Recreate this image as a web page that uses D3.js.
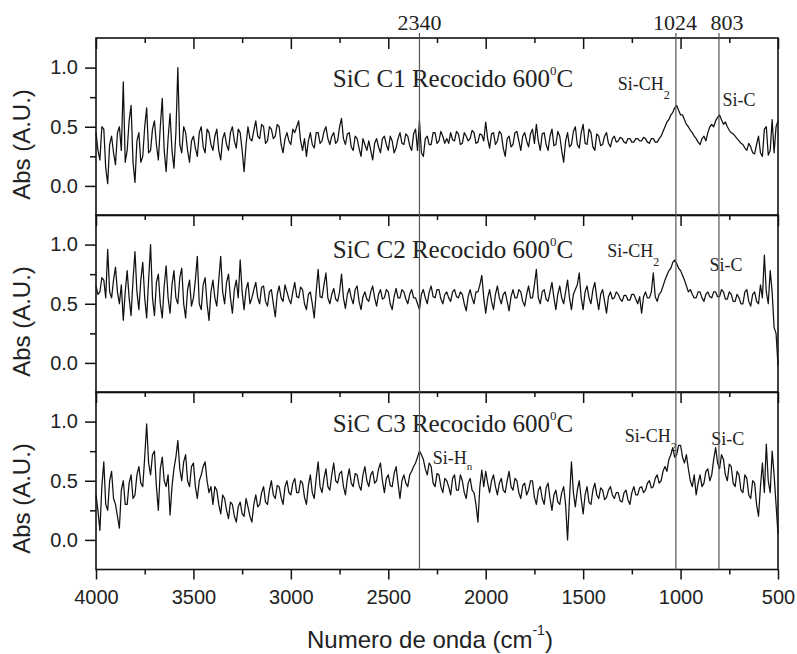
<!DOCTYPE html>
<html><head><meta charset="utf-8">
<script src="https://cdn.jsdelivr.net/npm/d3@7"></script>
<style>body{margin:0;background:#fff}</style></head>
<body>
<svg id="c" width="797" height="654"></svg>
<script>
// ---------- DATA ----------
const wnStart = 4000, wnEnd = 500, wnStep = 10;   // sampling grid (cm^-1)
const xTicks = [4000, 3500, 3000, 2500, 2000, 1500, 1000, 500];
const xMinorTicks = [3750, 3250, 2750, 2250, 1750, 1250, 750];
const yTicks = [0.0, 0.5, 1.0];
const yMinorTicks = [0.25, 0.75];
const markerLines = [2340, 1024, 803];
const sampleTitles = ["SiC C1 Recocido 600", "SiC C2 Recocido 600", "SiC C3 Recocido 600"];

// absorbance, one row = 200 cm^-1 (4000 -> 500)
const c1 = [
 .45,.3,.22,.5,.48,.15,.02,.35,.42,.28,.18,.45,.5,.3,.88,.2,.3,.55,.68,.2,
 .03,.38,.45,.2,.25,.5,.66,.28,.3,.48,.55,.35,.22,.5,.74,.3,.12,.4,.61,.3,
 .15,.45,1.0,.35,.28,.5,.45,.3,.2,.38,.42,.32,.25,.45,.5,.33,.28,.48,.45,.35,
 .3,.42,.48,.3,.22,.4,.45,.35,.3,.45,.5,.38,.32,.48,.45,.3,.12,.35,.5,.4,
 .38,.47,.55,.42,.4,.52,.5,.36,.38,.5,.48,.4,.42,.52,.5,.35,.28,.4,.45,.38,
 .35,.48,.45,.5,.55,.38,.3,.4,.25,.38,.45,.35,.32,.45,.45,.36,.38,.46,.5,.4,
 .35,.42,.45,.36,.38,.5,.57,.4,.35,.44,.45,.33,.3,.42,.4,.32,.25,.4,.35,.3,
 .38,.3,.22,.36,.4,.33,.28,.4,.42,.35,.3,.42,.38,.28,.32,.4,.45,.36,.35,.44,
 .42,.34,.3,.44,.48,.3,.55,.28,.25,.4,.42,.35,.35,.45,.45,.36,.38,.46,.42,.36,
 .4,.36,.45,.39,.38,.46,.44,.35,.36,.45,.42,.38,.4,.47,.45,.36,.37,.44,.43,.38,
 .54,.4,.32,.44,.45,.35,.38,.46,.44,.32,.25,.4,.42,.33,.35,.45,.46,.38,.3,.42,
 .45,.38,.33,.44,.48,.36,.52,.38,.3,.44,.45,.35,.3,.42,.48,.34,.35,.46,.42,.3,
 .2,.38,.45,.33,.35,.46,.5,.35,.32,.45,.52,.36,.35,.48,.45,.33,.3,.44,.42,.34,
 .35,.42,.45,.36,.33,.4,.42,.37,.38,.41,.4,.37,.36,.4,.4,.37,.37,.4,.4,.38,
 .38,.41,.4,.37,.36,.4,.4,.37,.37,.4,.42,.46,.5,.54,.56,.6,.62,.66,.68,.64,
 .6,.6,.56,.52,.5,.47,.45,.42,.4,.37,.35,.4,.42,.38,.45,.5,.52,.5,.55,.58,
 .6,.56,.52,.54,.5,.47,.45,.44,.42,.4,.38,.36,.35,.32,.3,.36,.33,.28,.27,.35,
 .42,.28,.25,.48,.5,.26,.3,.56,.28,.5,.55
];
const c2 = [
 .65,.58,.6,.72,.7,.55,.96,.6,.55,.7,.81,.6,.5,.66,.36,.6,.78,.55,.4,.7,
 .94,.6,.45,.7,.85,.55,.38,.7,1.0,.55,.4,.68,.75,.5,.38,.65,.82,.55,.42,.66,
 .78,.55,.5,.72,.8,.5,.38,.62,.7,.48,.55,.7,.9,.5,.45,.66,.72,.5,.36,.6,
 .7,.55,.48,.7,.9,.6,.5,.68,.75,.55,.42,.62,.7,.55,.87,.6,.45,.62,.68,.5,
 .55,.62,.68,.55,.5,.64,.65,.52,.48,.6,.62,.5,.39,.58,.65,.55,.52,.66,.6,.54,
 .5,.6,.68,.56,.55,.64,.62,.5,.45,.58,.6,.5,.38,.6,.79,.56,.55,.66,.76,.55,
 .5,.58,.63,.54,.52,.6,.75,.55,.46,.58,.63,.55,.5,.62,.65,.52,.45,.56,.6,.54,
 .52,.6,.65,.55,.48,.58,.62,.54,.55,.62,.6,.5,.45,.56,.63,.55,.55,.62,.6,.54,
 .5,.58,.62,.55,.55,.5,.45,.58,.62,.55,.5,.6,.65,.56,.55,.62,.62,.54,.5,.58,
 .6,.55,.52,.6,.62,.56,.55,.6,.58,.5,.44,.56,.62,.55,.5,.6,.6,.66,.74,.55,
 .42,.55,.62,.52,.45,.58,.65,.55,.5,.58,.6,.52,.44,.56,.62,.55,.55,.62,.6,.52,
 .48,.58,.65,.55,.55,.66,.79,.55,.5,.6,.62,.54,.52,.6,.68,.55,.45,.58,.65,.55,
 .5,.6,.7,.55,.45,.58,.62,.66,.76,.55,.45,.6,.65,.55,.5,.62,.68,.55,.45,.58,
 .62,.52,.42,.56,.6,.54,.55,.6,.58,.54,.52,.57,.57,.53,.53,.58,.58,.54,.5,.56,
 .42,.56,.6,.55,.55,.6,.76,.56,.52,.58,.6,.65,.7,.74,.78,.8,.85,.87,.84,.8,
 .78,.74,.7,.65,.6,.62,.58,.55,.55,.6,.6,.55,.52,.58,.6,.56,.55,.6,.6,.56,
 .56,.62,.6,.54,.54,.6,.58,.52,.52,.58,.55,.5,.5,.6,.62,.52,.48,.58,.6,.52,
 .5,.66,.55,.91,.6,.5,.78,.6,.3,.25,-.02
];
const c3 = [
 .38,.25,.08,.45,.66,.3,.25,.5,.58,.35,.3,.2,.1,.42,.5,.3,.3,.48,.55,.35,
 .38,.55,.62,.48,.45,.7,.98,.65,.55,.72,.75,.45,.25,.6,.7,.5,.45,.55,.21,.45,
 .6,.7,.84,.6,.5,.66,.72,.5,.45,.62,.65,.45,.35,.5,.55,.62,.66,.5,.4,.45,
 .3,.45,.42,.3,.22,.38,.35,.25,.18,.32,.3,.2,.15,.28,.32,.22,.2,.35,.28,.2,
 .15,.3,.38,.28,.3,.4,.45,.32,.3,.42,.5,.38,.35,.46,.45,.36,.3,.45,.5,.4,
 .38,.48,.52,.4,.4,.5,.48,.36,.3,.46,.55,.4,.35,.52,.66,.45,.4,.52,.6,.45,
 .42,.55,.65,.5,.48,.56,.58,.45,.38,.52,.6,.48,.45,.56,.55,.46,.42,.55,.62,.5,
 .45,.55,.58,.48,.5,.6,.65,.5,.4,.52,.55,.46,.45,.56,.62,.48,.35,.5,.55,.48,
 .45,.55,.58,.62,.65,.7,.75,.72,.68,.6,.55,.65,.62,.48,.45,.56,.55,.45,.4,.52,
 .5,.45,.38,.52,.55,.42,.42,.55,.5,.4,.35,.48,.52,.42,.4,.3,.15,.45,.59,.45,
 .58,.48,.4,.5,.55,.45,.38,.48,.52,.42,.4,.5,.58,.45,.42,.52,.5,.4,.35,.46,
 .48,.38,.42,.5,.5,.36,.3,.42,.45,.35,.3,.44,.48,.35,.25,.38,.42,.32,.3,.4,
 .45,.3,.0,.35,.66,.4,.28,.42,.5,.35,.22,.38,.45,.32,.3,.42,.48,.38,.35,.44,
 .42,.34,.36,.42,.45,.38,.35,.4,.4,.33,.32,.4,.42,.34,.3,.4,.45,.38,.38,.44,
 .45,.4,.42,.48,.5,.44,.45,.52,.55,.48,.5,.58,.62,.58,.68,.72,.78,.7,.72,.8,
 .8,.7,.65,.72,.6,.5,.45,.55,.38,.48,.55,.45,.48,.58,.6,.5,.55,.68,.78,.65,
 .6,.72,.68,.55,.5,.64,.62,.48,.45,.58,.55,.42,.4,.55,.52,.38,.35,.5,.48,.3,
 .2,.45,.65,.4,.81,.5,.4,.75,.55,.3,.05
];
const series = [c1, c2, c3];

// annotation anchors in data units (wavenumber, absorbance)
const titleAnchors = [[2785, 0.836], [2785, 0.883], [2785, 0.912]];
const bandLabels = [
  [{wn:1323, v:0.81, text:"Si-CH", sub:"2"}, {wn:785, v:0.676, text:"Si-C", sub:""}],
  [{wn:1376, v:0.898, text:"Si-CH", sub:"2"}, {wn:851, v:0.78, text:"Si-C", sub:""}],
  [{wn:2272, v:0.644, text:"Si-H", sub:"n"}, {wn:1287, v:0.828, text:"Si-CH", sub:"2"}, {wn:843, v:0.8, text:"Si-C", sub:""}]
];

// ---------- DRAW ----------
const svg = d3.select("#c");
const left = 96, right = 778;
const panelTops = [38, 215, 392], panelH = 177.5;
const sans = "'Liberation Sans', Arial, sans-serif";
const serif = "'Liberation Serif', 'Times New Roman', serif";
const wn = d3.range(wnStart, wnEnd - 1, -wnStep);

const x = d3.scaleLinear().domain([wnStart, wnEnd]).range([left, right]);

svg.append("rect").attr("width", 797).attr("height", 654).attr("fill", "#fff");

panelTops.forEach((top, i) => {
  const y = d3.scaleLinear().domain([-0.25, 1.25]).range([top + panelH, top]);
  const g = svg.append("g");

  // spectrum
  g.append("path")
    .datum(series[i])
    .attr("fill", "none").attr("stroke", "#111").attr("stroke-width", 1.25)
    .attr("stroke-linejoin", "round")
    .attr("d", d3.line().x((d, j) => x(wn[j])).y(d => y(d)));

  // left axis
  const ya = g.append("g").attr("transform", `translate(${left},0)`)
    .call(d3.axisLeft(y).tickValues(yTicks).tickFormat(d3.format(".1f")).tickSize(11).tickPadding(7));
  ya.select(".domain").remove();
  ya.selectAll("text").attr("font-family", sans).attr("font-size", 20).attr("fill", "#222");
  ya.selectAll("line").attr("stroke", "#111").attr("stroke-width", 1.5);
  const ym = g.append("g").attr("transform", `translate(${left},0)`)
    .call(d3.axisLeft(y).tickValues(yMinorTicks).tickFormat("").tickSize(6));
  ym.select(".domain").remove();
  ym.selectAll("line").attr("stroke", "#111").attr("stroke-width", 1.5);

  // top-edge ticks of this panel (pointing down)
  const xa = g.append("g").attr("transform", `translate(0,${top})`)
    .call(d3.axisBottom(x).tickValues(xTicks).tickFormat("").tickSize(11));
  xa.select(".domain").remove();
  xa.selectAll("line").attr("stroke", "#111").attr("stroke-width", 1.5);
  const xm = g.append("g").attr("transform", `translate(0,${top})`)
    .call(d3.axisBottom(x).tickValues(xMinorTicks).tickFormat("").tickSize(5));
  xm.select(".domain").remove();
  xm.selectAll("line").attr("stroke", "#111").attr("stroke-width", 1.5);

  // frame
  g.append("rect").attr("x", left).attr("y", top).attr("width", right - left).attr("height", panelH)
    .attr("fill", "none").attr("stroke", "#111").attr("stroke-width", 1.6);

  // y label
  g.append("text")
    .attr("transform", `translate(30,${y(0.35)}) rotate(-90)`)
    .attr("text-anchor", "middle").attr("font-family", sans).attr("font-size", 24).attr("fill", "#222")
    .text("Abs (A.U.)");

  // sample title
  const t = g.append("text").attr("x", x(titleAnchors[i][0])).attr("y", y(titleAnchors[i][1]))
    .attr("font-family", serif).attr("font-size", 25).attr("fill", "#222");
  t.append("tspan").text(sampleTitles[i]);
  t.append("tspan").attr("font-size", 13).attr("dy", -12).text("0");
  t.append("tspan").attr("dy", 12).text("C");

  // band labels
  bandLabels[i].forEach(b => {
    const bt = g.append("text").attr("x", x(b.wn)).attr("y", y(b.v))
      .attr("font-family", serif).attr("font-size", 18).attr("fill", "#222");
    bt.append("tspan").text(b.text);
    if (b.sub) bt.append("tspan").attr("font-size", b.sub === "n" ? 11 : 12).attr("dy", b.sub === "n" ? 6 : 9).text(b.sub);
  });

  if (i === 2) {
    const bottom = top + panelH;
    const xb = g.append("g").attr("transform", `translate(0,${bottom})`)
      .call(d3.axisBottom(x).tickValues(xTicks).tickFormat(d3.format("d")).tickSize(10).tickPadding(10));
    xb.select(".domain").remove();
    xb.selectAll("line").attr("stroke", "#111").attr("stroke-width", 1.5);
    xb.selectAll("text").attr("font-family", sans).attr("font-size", 20).attr("fill", "#222");
    const xbm = g.append("g").attr("transform", `translate(0,${bottom})`)
      .call(d3.axisBottom(x).tickValues(xMinorTicks).tickFormat("").tickSize(5));
    xbm.select(".domain").remove();
    xbm.selectAll("line").attr("stroke", "#111").attr("stroke-width", 1.5);
  }
});

// marker lines
const markerOffsets = [0, -1, 8];
markerLines.forEach((m, k) => {
  svg.append("line").attr("x1", x(m)).attr("x2", x(m)).attr("y1", 33).attr("y2", panelTops[2] + panelH)
    .attr("stroke", "#555").attr("stroke-width", 1.2);
  svg.append("text").attr("x", x(m) + markerOffsets[k]).attr("y", 30).attr("text-anchor", "middle")
    .attr("font-family", serif).attr("font-size", 22).attr("fill", "#222").text(m);
});

// x title
const xt = svg.append("text").attr("x", 307).attr("y", 648)
  .attr("font-family", sans).attr("font-size", 24).attr("fill", "#222");
xt.append("tspan").text("Numero de onda (cm");
xt.append("tspan").attr("font-size", 14).attr("dy", -13).text("-1");
xt.append("tspan").attr("dy", 13).text(")");
</script>
</body></html>
